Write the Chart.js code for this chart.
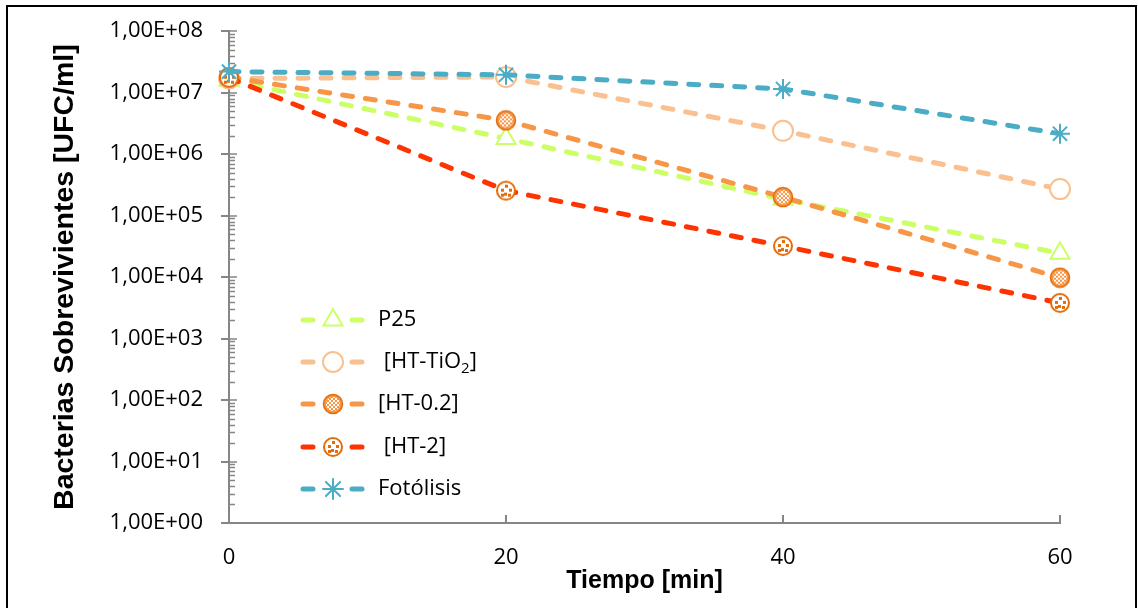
<!DOCTYPE html>
<html>
<head>
<meta charset="utf-8">
<script src="https://cdn.jsdelivr.net/npm/chart.js@4/dist/chart.umd.min.js"></script>
<style>
  html, body { margin: 0; padding: 0; background: #fff; overflow: hidden; }
  #wrap { position: relative; width: 1138px; height: 608px; }
  #frame { position: absolute; left: 6px; top: 5px; width: 1127px; height: 700px; border: 2px solid #000; pointer-events: none; }
  canvas { position: absolute; left: 0; top: 0; }
</style>
</head>
<body>
<div id="wrap">
  <canvas id="chart" width="1138" height="608"></canvas>
  <div id="frame"></div>
</div>
<script>
// values
const times = [0, 20, 40, 60];
const p25 = [1.6e7, 1.8e6, 1.85e5, 2.45e4];
const htTiO2 = [1.7e7, 1.8e7, 2.4e6, 2.7e5];
const ht02 = [1.78e7, 3.55e6, 2.0e5, 9.8e3];
const ht2 = [1.75e7, 2.55e5, 3.2e4, 3.8e3];
const fotolisis = [2.2e7, 1.95e7, 1.15e7, 2.15e6];
const seriesNames = ["P25", " [HT-TiO2]", "[HT-0.2]", " [HT-2]", "Fotólisis"];
const yTickValues = [1e0, 1e1, 1e2, 1e3, 1e4, 1e5, 1e6, 1e7, 1e8];
const xTickValues = [0, 20, 40, 60];

const AXIS = "#868686";

function meshMarker() {
  const c = document.createElement("canvas");
  c.width = c.height = 22;
  const g = c.getContext("2d");
  g.beginPath();
  g.arc(11, 11, 9.5, 0, Math.PI * 2);
  g.fillStyle = "#f79646";
  g.fill();
  g.save();
  g.beginPath();
  g.arc(11, 11, 7, 0, Math.PI * 2);
  g.clip();
  g.fillStyle = "#fff";
  for (let x = 3; x < 20; x += 2) {
    for (let y = 3; y < 20; y += 2) {
      if ((x + y) % 4 === 2) g.fillRect(x, y, 2, 2);
    }
  }
  g.restore();
  g.beginPath();
  g.arc(11, 11, 9.5, 0, Math.PI * 2);
  g.lineWidth = 1.5;
  g.strokeStyle = "#e46c0a";
  g.stroke();
  return c;
}

function diceMarker() {
  const c = document.createElement("canvas");
  c.width = c.height = 22;
  const g = c.getContext("2d");
  g.beginPath();
  g.arc(11, 11, 9, 0, Math.PI * 2);
  g.fillStyle = "#fff";
  g.fill();
  g.lineWidth = 2;
  g.strokeStyle = "#e46c0a";
  g.stroke();
  g.fillStyle = "#e46c0a";
  [[6, 9], [10, 5], [14, 9], [9, 13], [13, 14], [6, 14]].forEach(([x, y]) => g.fillRect(x, y, 3, 3));
  return c;
}

function series(label, values, color, extra) {
  return Object.assign({
    label,
    data: times.map((t, i) => ({ x: t, y: values[i] })),
    borderColor: color,
    borderWidth: 5,
    borderDash: [10, 13],
    borderCapStyle: "round",
    tension: 0,
    pointRadius: 10,
    pointBorderWidth: 2,
    pointBorderColor: color,
    pointBackgroundColor: "#fff",
    clip: false,
  }, extra);
}

const datasets = [
  series(seriesNames[0], p25, "#ccff66", { pointStyle: "triangle", pointRadius: 11, order: 5 }),
  series(seriesNames[1], htTiO2, "#fac090", { pointStyle: "circle", order: 4 }),
  series(seriesNames[2], ht02, "#f79646", { pointStyle: meshMarker(), order: 3 }),
  series(seriesNames[3], ht2, "#ff3300", { pointStyle: diceMarker(), order: 2 }),
  series(seriesNames[4], fotolisis, "#4bacc6", { pointStyle: "star", order: 1 }),
];

// inside tick marks (log minors on y, majors on x)
const innerTicks = {
  id: "innerTicks",
  beforeDatasetsDraw(chart) {
    const { ctx, scales } = chart;
    const y = scales.y;
    const x = scales.x;
    const ax = x.getPixelForValue(0);
    const ay = y.getPixelForValue(1);
    ctx.save();
    ctx.strokeStyle = AXIS;
    ctx.lineWidth = 1.5;
    ctx.beginPath();
    for (let e = 0; e < 8; e++) {
      for (let m = 2; m <= 9; m++) {
        const py = Math.round(y.getPixelForValue(m * Math.pow(10, e))) + 0.5;
        ctx.moveTo(ax, py);
        ctx.lineTo(ax + 6, py);
      }
    }
    yTickValues.forEach((v) => {
      const py = Math.round(y.getPixelForValue(v));
      ctx.moveTo(ax, py);
      ctx.lineTo(ax + 8, py);
    });
    ctx.stroke();
    ctx.lineWidth = 2;
    ctx.beginPath();
    xTickValues.slice(1).forEach((v) => {
      const px = Math.round(x.getPixelForValue(v));
      ctx.moveTo(px, ay);
      ctx.lineTo(px, ay - 8);
    });
    ctx.stroke();
    ctx.restore();
  },
};

const legendRows = [320, 362, 404, 447, 489];

const insideLegend = {
  id: "insideLegend",
  afterDraw(chart) {
    const { ctx } = chart;
    ctx.save();
    chart.data.datasets.forEach((ds, i) => {
      const yy = legendRows[i];
      ctx.strokeStyle = ds.borderColor;
      ctx.lineWidth = ds.borderWidth;
      ctx.lineCap = "round";
      ctx.setLineDash([]);
      ctx.beginPath();
      ctx.moveTo(303, yy);
      ctx.lineTo(313, yy);
      ctx.moveTo(352, yy);
      ctx.lineTo(362, yy);
      ctx.stroke();
      ctx.fillStyle = ds.pointBackgroundColor;
      ctx.strokeStyle = ds.pointBorderColor;
      ctx.lineWidth = ds.pointBorderWidth;
      Chart.helpers.drawPoint(ctx, {
        pointStyle: ds.pointStyle,
        radius: ds.pointRadius,
        rotation: 0,
        borderWidth: ds.pointBorderWidth,
      }, 333, yy);

      ctx.fillStyle = "#000";
      ctx.textBaseline = "middle";
      ctx.font = "22px 'Open Sans'";
      let tx = 378;
      const label = ds.label;
      const k = label.indexOf("TiO2");
      if (k >= 0) {
        const head = label.slice(0, k + 3);
        ctx.fillText(head, tx, yy);
        tx += ctx.measureText(head).width;
        ctx.font = "15px 'Open Sans'";
        ctx.fillText("2", tx, yy + 7);
        tx += ctx.measureText("2").width;
        ctx.font = "22px 'Open Sans'";
        ctx.fillText(label.slice(k + 4), tx, yy);
      } else {
        ctx.fillText(label, tx, yy);
      }
    });
    ctx.restore();
  },
};

new Chart(document.getElementById("chart").getContext("2d"), {
  type: "line",
  data: { datasets },
  plugins: [innerTicks, insideLegend],
  options: {
    responsive: false,
    animation: false,
    layout: { padding: { left: 0, right: 78, top: 30, bottom: 0 } },
    plugins: {
      legend: { display: false },
      tooltip: { enabled: false },
    },
    scales: {
      x: {
        type: "linear",
        min: 0,
        max: 60,
        afterBuildTicks: (scale) => {
          scale.ticks = xTickValues.map((v) => ({ value: v }));
        },
        afterFit: (scale) => {
          scale.height = 85;
        },
        grid: { display: true, drawOnChartArea: false, drawTicks: false },
        border: { display: true, color: AXIS, width: 2 },
        ticks: {
          color: "#000",
          padding: 22,
          font: { family: "'Open Sans'", size: 22 },
        },
        title: {
          display: true,
          text: "Tiempo [min]",
          color: "#000",
          padding: { top: 0, bottom: 12 },
          font: { family: "'Liberation Sans'", size: 25, weight: "bold" },
        },
      },
      y: {
        type: "logarithmic",
        min: 1,
        max: 1e8,
        afterBuildTicks: (scale) => {
          scale.ticks = yTickValues.map((v) => ({ value: v, major: true }));
        },
        afterFit: (scale) => {
          scale.width = 229;
        },
        grid: { display: true, drawOnChartArea: false, drawTicks: true, tickLength: 8, color: AXIS, lineWidth: 2 },
        border: { display: true, color: AXIS, width: 2 },
        ticks: {
          color: "#000",
          padding: 18,
          autoSkip: false,
          font: { family: "'Open Sans'", size: 22 },
          callback: (v) => "1,00E+" + String(Math.round(Math.log10(v))).padStart(2, "0"),
        },
        title: {
          display: true,
          text: "Bacterias Sobrevivientes [UFC/ml]",
          color: "#000",
          padding: { top: 48, bottom: 0 },
          font: { family: "'Liberation Sans'", size: 28.5, weight: "bold" },
        },
      },
    },
  },
});
</script>
</body>
</html>
